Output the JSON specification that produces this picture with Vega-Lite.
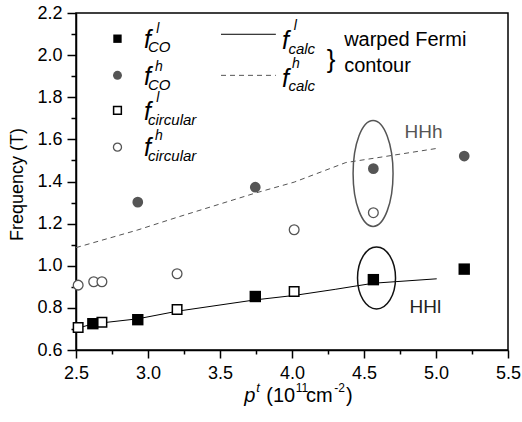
{
  "$schema": "https://vega.github.io/schema/vega-lite/v6.json",
  "width": 432,
  "height": 337,
  "autosize": {"type": "none"},
  "padding": {"left": 76, "top": 13, "right": 14, "bottom": 72},
  "background": "white",
  "config": {
    "view": {"stroke": "black", "strokeWidth": 1.5},
    "font": "Liberation Sans",
    "axis": {
      "domainColor": "black", "domainWidth": 1.5, "tickColor": "black", "tickWidth": 1.5,
      "labelColor": "black", "labelFont": "Liberation Sans", "labelFontSize": 18,
      "grid": false, "labelFlush": false, "labelOverlap": false,
      "titleFont": "Liberation Sans", "titleFontWeight": "normal", "titleColor": "black"
    }
  },
  "datasets": {
    "pts": [
      {"p": 2.617, "f": 0.725, "s": "CO_l"}, {"p": 2.929, "f": 0.744, "s": "CO_l"}, {"p": 3.745, "f": 0.854, "s": "CO_l"}, {"p": 4.565, "f": 0.934, "s": "CO_l"}, {"p": 5.196, "f": 0.984, "s": "CO_l"},
      {"p": 2.929, "f": 1.302, "s": "CO_h"}, {"p": 3.745, "f": 1.373, "s": "CO_h"}, {"p": 4.565, "f": 1.461, "s": "CO_h"}, {"p": 5.196, "f": 1.521, "s": "CO_h"},
      {"p": 2.515, "f": 0.707, "s": "circ_l"}, {"p": 2.68, "f": 0.732, "s": "circ_l"}, {"p": 3.202, "f": 0.792, "s": "circ_l"}, {"p": 4.015, "f": 0.878, "s": "circ_l"},
      {"p": 2.515, "f": 0.908, "s": "circ_h"}, {"p": 2.623, "f": 0.924, "s": "circ_h"}, {"p": 2.68, "f": 0.924, "s": "circ_h"}, {"p": 3.202, "f": 0.962, "s": "circ_h"}, {"p": 4.015, "f": 1.171, "s": "circ_h"}, {"p": 4.565, "f": 1.252, "s": "circ_h"}
    ],
    "calc": [
      {"p": 2.5, "f": 0.701, "s": "l"}, {"p": 2.617, "f": 0.724, "s": "l"}, {"p": 2.929, "f": 0.748, "s": "l"}, {"p": 3.202, "f": 0.784, "s": "l"}, {"p": 3.745, "f": 0.838, "s": "l"}, {"p": 4.015, "f": 0.859, "s": "l"}, {"p": 4.3, "f": 0.888, "s": "l"}, {"p": 4.565, "f": 0.917, "s": "l"}, {"p": 5.005, "f": 0.938, "s": "l"},
      {"p": 2.5, "f": 1.086, "s": "h"}, {"p": 2.929, "f": 1.17, "s": "h"}, {"p": 3.202, "f": 1.23, "s": "h"}, {"p": 3.745, "f": 1.345, "s": "h"}, {"p": 4.015, "f": 1.397, "s": "h"}, {"p": 4.374, "f": 1.49, "s": "h"}, {"p": 4.565, "f": 1.51, "s": "h"}, {"p": 5.005, "f": 1.557, "s": "h"},
      {"p": 3.507, "f": 2.099, "s": "leg_l"}, {"p": 3.888, "f": 2.099, "s": "leg_l"},
      {"p": 3.507, "f": 1.904, "s": "leg_h"}, {"p": 3.888, "f": 1.904, "s": "leg_h"}
    ],
    "legsym": [
      {"p": 2.788, "f": 2.078, "s": "CO_l"}, {"p": 2.788, "f": 1.904, "s": "CO_h"}, {"p": 2.788, "f": 1.738, "s": "circ_l"}, {"p": 2.788, "f": 1.563, "s": "circ_h"}
    ],
    "ell": [
      {"p": 4.563, "f": 1.4385, "s": "HHh"}, {"p": 4.587, "f": 0.942, "s": "HHl"}
    ],
    "txt": [
      {"p": 2.972, "f": 2.032, "t": "f", "r": "main"}, {"p": 2.972, "f": 1.857, "t": "f", "r": "main"}, {"p": 2.972, "f": 1.69, "t": "f", "r": "main"}, {"p": 2.972, "f": 1.519, "t": "f", "r": "main"},
      {"p": 3.93, "f": 2.028, "t": "f", "r": "main"}, {"p": 3.93, "f": 1.847, "t": "f", "r": "main"},
      {"p": 3.058, "f": 2.123, "t": "l", "r": "sup"}, {"p": 3.048, "f": 1.942, "t": "h", "r": "sup"}, {"p": 3.058, "f": 1.795, "t": "l", "r": "sup"}, {"p": 3.048, "f": 1.614, "t": "h", "r": "sup"},
      {"p": 4.012, "f": 2.137, "t": "l", "r": "sup"}, {"p": 4.0, "f": 1.956, "t": "h", "r": "sup"},
      {"p": 3.0, "f": 2.039, "t": "CO", "r": "sub"}, {"p": 3.0, "f": 1.859, "t": "CO", "r": "sub"}, {"p": 3.0, "f": 1.69, "t": "circular", "r": "sub"}, {"p": 3.0, "f": 1.519, "t": "circular", "r": "sub"},
      {"p": 3.975, "f": 2.028, "t": "calc", "r": "sub"}, {"p": 3.975, "f": 1.852, "t": "calc", "r": "sub"},
      {"p": 4.362, "f": 2.07, "t": "warped Fermi", "r": "note"}, {"p": 4.362, "f": 1.947, "t": "contour", "r": "note"},
      {"p": 4.272, "f": 1.978, "t": "}", "r": "brace"},
      {"p": 4.781, "f": 1.636, "t": "HHh", "r": "hhh"}, {"p": 4.816, "f": 0.804, "t": "HHl", "r": "hhl"},
      {"p": 3.669, "f": 0.352, "t": "p", "r": "xt_it"},
      {"p": 3.752, "f": 0.4005, "t": "t", "r": "xt_sup_it"},
      {"p": 3.821, "f": 0.352, "t": "(10", "r": "xt"},
      {"p": 4.026, "f": 0.4005, "t": "11", "r": "xt_sup"},
      {"p": 4.098, "f": 0.352, "t": "cm", "r": "xt"},
      {"p": 4.293, "f": 0.4005, "t": "-2", "r": "xt_sup"},
      {"p": 4.375, "f": 0.352, "t": ")", "r": "xt"}
    ]
  },
  "encoding": {
    "x": {
      "field": "p", "type": "quantitative",
      "scale": {"domain": [2.5, 5.5], "nice": false, "zero": false},
      "axis": {
        "title": null,
        "values": [2.5, 2.75, 3.0, 3.25, 3.5, 3.75, 4.0, 4.25, 4.5, 4.75, 5.0, 5.25, 5.5],
        "labelExpr": "abs(datum.value*2 - round(datum.value*2)) < 0.01 ? format(datum.value, '.1f') : ''",
        "tickSize": {"condition": {"test": "abs(datum.value*2 - round(datum.value*2)) < 0.01", "value": 8}, "value": 4},
        "labelPadding": 6
      }
    },
    "y": {
      "field": "f", "type": "quantitative",
      "scale": {"domain": [0.6, 2.2], "nice": false, "zero": false},
      "axis": {
        "title": "Frequency (T)",
        "titleFontSize": 18,
        "titleX": -59, "titleY": 171, "titleAngle": 270, "titleAlign": "center", "titleBaseline": "middle",
        "values": [0.6, 0.7, 0.8, 0.9, 1.0, 1.1, 1.2, 1.3, 1.4, 1.5, 1.6, 1.7, 1.8, 1.9, 2.0, 2.1, 2.2],
        "labelExpr": "abs(datum.value*5 - round(datum.value*5)) < 0.01 ? format(datum.value, '.1f') : ''",
        "tickSize": {"condition": {"test": "abs(datum.value*5 - round(datum.value*5)) < 0.01", "value": 9}, "value": 5},
        "labelPadding": 5
      }
    }
  },
  "layer": [
    {"data": {"name": "calc"}, "transform": [{"filter": "datum.s == 'l' || datum.s == 'leg_l'"}],
     "mark": {"type": "line", "color": "black", "strokeWidth": 1},
     "encoding": {"detail": {"field": "s"}}},
    {"data": {"name": "calc"}, "transform": [{"filter": "datum.s == 'h' || datum.s == 'leg_h'"}],
     "mark": {"type": "line", "color": "#555555", "strokeWidth": 1, "strokeDash": [5, 4]},
     "encoding": {"detail": {"field": "s"}}},
    {"data": {"name": "ell"}, "transform": [{"filter": "datum.s == 'HHh'"}],
     "mark": {"type": "point", "filled": false, "stroke": "#555555", "strokeWidth": 1.5, "opacity": 1, "size": 11236,
              "shape": "M0,-1C0.2083,-1 0.377,-0.5523 0.377,0C0.377,0.5523 0.2083,1 0,1C-0.2083,1 -0.377,0.5523 -0.377,0C-0.377,-0.5523 -0.2083,-1 0,-1Z"}},
    {"data": {"name": "ell"}, "transform": [{"filter": "datum.s == 'HHl'"}],
     "mark": {"type": "point", "filled": false, "stroke": "#111111", "strokeWidth": 1.5, "opacity": 1, "size": 3844,
              "shape": "M0,-1C0.3385,-1 0.613,-0.5523 0.613,0C0.613,0.5523 0.3385,1 0,1C-0.3385,1 -0.613,0.5523 -0.613,0C-0.613,-0.5523 -0.3385,-1 0,-1Z"}},
    {"data": {"name": "pts"}, "transform": [{"filter": "datum.s == 'circ_l'"}],
     "mark": {"type": "point", "shape": "square", "filled": true, "fill": "white", "stroke": "black", "strokeWidth": 1.5, "opacity": 1, "size": 90}},
    {"data": {"name": "pts"}, "transform": [{"filter": "datum.s == 'circ_h'"}],
     "mark": {"type": "point", "shape": "circle", "filled": true, "fill": "white", "stroke": "#555555", "strokeWidth": 1.3, "opacity": 1, "size": 95}},
    {"data": {"name": "pts"}, "transform": [{"filter": "datum.s == 'CO_h'"}],
     "mark": {"type": "point", "shape": "circle", "filled": true, "fill": "#555555", "opacity": 1, "size": 115}},
    {"data": {"name": "pts"}, "transform": [{"filter": "datum.s == 'CO_l'"}],
     "mark": {"type": "point", "shape": "square", "filled": true, "fill": "black", "opacity": 1, "size": 130}},
    {"data": {"name": "legsym"}, "transform": [{"filter": "datum.s == 'CO_l'"}],
     "mark": {"type": "point", "shape": "square", "filled": true, "fill": "black", "opacity": 1, "size": 70}},
    {"data": {"name": "legsym"}, "transform": [{"filter": "datum.s == 'CO_h'"}],
     "mark": {"type": "point", "shape": "circle", "filled": true, "fill": "#555555", "opacity": 1, "size": 80}},
    {"data": {"name": "legsym"}, "transform": [{"filter": "datum.s == 'circ_l'"}],
     "mark": {"type": "point", "shape": "square", "filled": true, "fill": "white", "stroke": "black", "strokeWidth": 1.5, "opacity": 1, "size": 60}},
    {"data": {"name": "legsym"}, "transform": [{"filter": "datum.s == 'circ_h'"}],
     "mark": {"type": "point", "shape": "circle", "filled": true, "fill": "white", "stroke": "#555555", "strokeWidth": 1.3, "opacity": 1, "size": 65}},
    {"data": {"name": "txt"}, "transform": [{"filter": "datum.r == 'main'"}],
     "mark": {"type": "text", "font": "Liberation Sans", "fontStyle": "italic", "fontSize": 25, "align": "left", "baseline": "alphabetic", "color": "black"},
     "encoding": {"text": {"field": "t"}}},
    {"data": {"name": "txt"}, "transform": [{"filter": "datum.r == 'sup'"}],
     "mark": {"type": "text", "font": "Liberation Sans", "fontStyle": "italic", "fontSize": 14, "align": "left", "baseline": "middle", "color": "black"},
     "encoding": {"text": {"field": "t"}}},
    {"data": {"name": "txt"}, "transform": [{"filter": "datum.r == 'sub'"}],
     "mark": {"type": "text", "font": "Liberation Sans", "fontStyle": "italic", "fontSize": 15, "align": "left", "baseline": "middle", "color": "black"},
     "encoding": {"text": {"field": "t"}}},
    {"data": {"name": "txt"}, "transform": [{"filter": "datum.r == 'note'"}],
     "mark": {"type": "text", "font": "Liberation Sans", "fontSize": 20, "align": "left", "baseline": "middle", "color": "black"},
     "encoding": {"text": {"field": "t"}}},
    {"data": {"name": "txt"}, "transform": [{"filter": "datum.r == 'brace'"}],
     "mark": {"type": "text", "font": "Liberation Sans", "fontSize": 26, "align": "center", "baseline": "middle", "color": "black"},
     "encoding": {"text": {"field": "t"}}},
    {"data": {"name": "txt"}, "transform": [{"filter": "datum.r == 'hhh'"}],
     "mark": {"type": "text", "font": "Liberation Sans", "fontSize": 19, "align": "left", "baseline": "middle", "color": "#555555"},
     "encoding": {"text": {"field": "t"}}},
    {"data": {"name": "txt"}, "transform": [{"filter": "datum.r == 'hhl'"}],
     "mark": {"type": "text", "font": "Liberation Sans", "fontSize": 19, "align": "left", "baseline": "middle", "color": "#222222"},
     "encoding": {"text": {"field": "t"}}},
    {"data": {"name": "txt"}, "transform": [{"filter": "datum.r == 'xt_it'"}],
     "mark": {"type": "text", "font": "Liberation Sans", "fontStyle": "italic", "fontSize": 20, "align": "left", "baseline": "alphabetic", "color": "black"},
     "encoding": {"text": {"field": "t"}}},
    {"data": {"name": "txt"}, "transform": [{"filter": "datum.r == 'xt'"}],
     "mark": {"type": "text", "font": "Liberation Sans", "fontSize": 20, "align": "left", "baseline": "alphabetic", "color": "black"},
     "encoding": {"text": {"field": "t"}}},
    {"data": {"name": "txt"}, "transform": [{"filter": "datum.r == 'xt_sup_it'"}],
     "mark": {"type": "text", "font": "Liberation Sans", "fontStyle": "italic", "fontSize": 13, "align": "left", "baseline": "alphabetic", "color": "black"},
     "encoding": {"text": {"field": "t"}}},
    {"data": {"name": "txt"}, "transform": [{"filter": "datum.r == 'xt_sup'"}],
     "mark": {"type": "text", "font": "Liberation Sans", "fontSize": 12, "align": "left", "baseline": "alphabetic", "color": "black"},
     "encoding": {"text": {"field": "t"}}}
  ]
}
